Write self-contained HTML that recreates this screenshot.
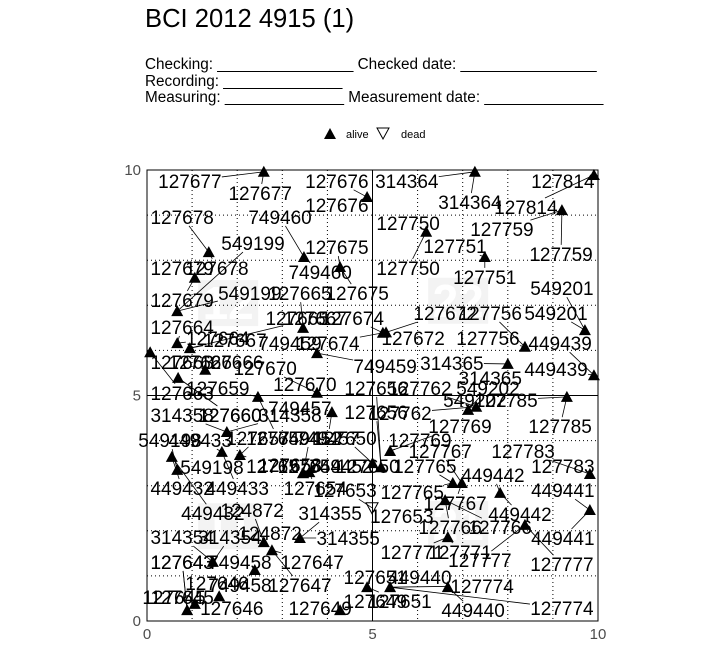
<!DOCTYPE html>
<html><head><meta charset="utf-8"><style>
body{margin:0;background:#fff;font-family:"Liberation Sans",sans-serif;}
#wrap{position:relative;width:720px;height:648px;overflow:hidden;}
.t{position:absolute;white-space:pre;color:#000;}
</style></head><body>
<div id="wrap">
<div class="t" style="left:145px;top:5px;font-size:25.6px;">BCI 2012 4915 (1)</div>
<div class="t" style="left:145px;top:57px;font-size:15.3px;line-height:16.5px;">Checking: ________________ Checked date: ________________
Recording: ______________
Measuring: ______________ Measurement date: ______________</div>
<svg id="chart" width="720" height="648" style="position:absolute;left:0;top:0"></svg>
</div>
<script>
const tags=["127677","127676","127678","749460","549199","127675","127679","127665","127664","127667","127674","749459","127663","127666","127670","127659","127660","314364","127814","127750","127759","127751","549201","127672","127756","449439","314365","549202","127785","127762","127769","127656","749457","314358","549198","449433","127657","749452","127654","127650","449432","124872","314355","314354","749458","127647","127643","127646","127645","127649","127653","127651","127774","449440","127771","127765","127767","127766","449442","127783","449441","127777","127658"];
const treeX=[2.59,4.88,1.37,3.48,0.67,4.28,1.06,3.46,0.67,0.95,5.23,3.77,0.07,1.29,3.77,2.46,0.69,7.27,9.91,6.19,9.2,7.49,9.71,5.3,8.38,9.91,8.0,7.12,9.31,7.3,5.39,5.19,4.1,1.77,0.67,1.66,2.06,3.46,3.6,5.0,0.55,2.59,3.39,1.46,2.39,2.77,0.89,1.6,1.06,4.28,4.99,4.88,5.39,6.67,6.67,6.78,6.98,6.61,7.83,9.82,9.82,8.38,3.46];
const treeY=[9.96,9.4,8.18,8.07,6.87,7.85,7.61,6.5,6.16,6.05,6.39,5.94,5.96,5.57,5.06,4.97,5.39,9.96,9.89,8.63,9.11,8.07,6.45,6.4,6.08,5.45,5.7,4.68,4.97,4.75,3.77,3.41,4.63,4.19,3.35,3.75,3.68,3.28,3.3,3.5,3.64,1.75,1.84,1.31,1.13,1.57,0.24,0.55,0.38,0.24,2.51,0.75,0.75,0.75,1.86,3.06,3.06,2.68,2.84,3.26,2.46,2.13,3.28];
const status=["A","A","A","A","A","A","A","A","A","A","A","A","A","A","A","A","A","A","A","A","A","A","A","A","A","A","A","A","A","A","A","A","A","A","A","A","A","A","A","A","A","A","A","A","A","A","A","A","A","A","D","A","A","A","A","A","A","A","A","A","A","A","A"];
const label1X=[0.95,4.21,0.78,2.95,2.35,4.21,0.78,3.39,0.78,3.73,4.55,3.17,0.78,1.18,2.62,1.57,1.84,5.76,9.22,5.79,7.87,6.83,9.2,6.61,7.61,9.16,6.76,7.56,7.96,6.05,6.94,5.08,3.39,0.78,0.51,1.18,2.46,3.61,3.73,4.39,0.78,2.33,4.06,0.78,2.06,3.66,0.78,1.55,0.78,3.84,4.39,5.06,7.43,6.05,5.88,6.16,6.5,6.72,7.67,8.34,9.22,7.38,3.17];
const label1Y=[9.76,9.76,8.96,8.96,8.38,8.29,7.83,7.27,6.52,6.72,6.72,6.16,5.74,5.74,5.61,5.17,4.57,9.76,9.76,8.82,8.69,8.31,7.38,6.83,6.83,6.16,5.72,5.17,4.9,5.17,4.32,5.17,4.72,4.57,4.01,4.01,4.06,4.06,2.95,4.06,2.95,2.46,2.39,1.86,1.31,1.31,1.31,0.84,0.53,0.29,2.9,0.98,0.78,0.98,1.53,3.44,3.77,2.08,3.24,3.77,2.9,1.35,3.46];
const label2X=[2.51,4.21,1.55,3.84,2.28,4.66,0.78,3.33,1.57,1.95,4.01,5.28,0.78,1.88,3.5,2.9,1.84,7.16,8.4,5.79,9.18,7.49,9.07,5.9,7.56,9.07,7.61,7.27,9.16,5.61,6.05,5.08,4.01,3.17,1.44,2.0,2.9,4.3,3.6,4.9,1.46,2.73,4.46,1.84,2.06,3.39,0.78,1.88,0.6,5.06,5.65,5.61,9.2,7.23,6.94,5.88,6.83,7.83,8.27,9.22,9.22,9.2,3.17];
const label2Y=[9.49,9.22,7.83,7.74,7.27,7.27,7.12,6.72,6.27,6.23,6.16,5.65,5.06,5.74,5.25,4.06,4.57,9.29,9.18,7.83,8.14,7.63,6.83,6.27,6.27,5.59,5.39,4.9,4.32,4.61,4.01,4.63,4.06,4.57,3.41,2.95,3.44,3.44,3.44,3.44,2.39,1.95,1.84,1.86,0.8,0.8,1.31,0.29,0.53,0.44,2.33,0.44,0.29,0.24,1.53,2.86,2.62,2.08,2.37,3.44,1.84,1.26,3.46];
const xTicks=[0,5,10];
const yTicks=[0,5,10];
const quadrants=["12","22","11","21"];
const quadX=[1.8,6.9,1.8,6.9];
const quadY=[7.05,7.1,2.1,2.15];

const NS="http://www.w3.org/2000/svg";
const svg=document.getElementById('chart');
const L=147,R=598,T=170,B=621;
const sx=v=>L+(v/10)*(R-L);
const sy=v=>B-(v/10)*(B-T);
function mk(tag,at,parent){const e=document.createElementNS(NS,tag);for(const k in at)e.setAttribute(k,at[k]);(parent||svg).appendChild(e);return e;}

let lg=mk('g',{});


let la=mk('polygon',{points:"324,139 336,139 330,128",fill:"#000"},lg);


let lat=mk('text',{x:346,y:138,'font-size':11,'font-family':'Liberation Sans'},lg);lat.textContent='alive';


let ld=mk('polygon',{points:"377,128 389,128 383,139",fill:"none",stroke:"#000"},lg);


let ldt=mk('text',{x:401,y:138,'font-size':11,'font-family':'Liberation Sans'},lg);ldt.textContent='dead';



quadrants.forEach((q,i)=>{
  const cx=sx(quadX[i]),cy=sy(quadY[i]);
  let r=mk('rect',{x:cx-30,y:cy-23,width:60,height:46,fill:'#f3f3f3'});
  
  
  let t=mk('text',{x:cx,y:cy+16,'text-anchor':'middle','font-size':46,'font-weight':'bold',fill:'#fff','font-family':'Liberation Sans'});t.textContent=q;
  
  
});

for(let i=1;i<10;i++){
  if(i===5)continue;
  let gv=mk('line',{x1:sx(i),x2:sx(i),y1:T,y2:B,stroke:'#000','stroke-width':1,'stroke-dasharray':'1,3'});
  
  
  let gh=mk('line',{y1:sy(i),y2:sy(i),x1:L,x2:R,stroke:'#000','stroke-width':1,'stroke-dasharray':'1,3'});
  
  
}
let m1=mk('line',{x1:sx(5),x2:sx(5),y1:T,y2:B,stroke:'#000'});


let m2=mk('line',{y1:sy(5),y2:sy(5),x1:L,x2:R,stroke:'#000'});


let fr=mk('rect',{x:L,y:T,width:R-L,height:B-T,fill:'none',stroke:'#000'});



xTicks.forEach(v=>{let t=mk('text',{x:sx(v),y:B+18,'text-anchor':'middle','font-size':15,fill:'#4d4d4d','font-family':'Liberation Sans'});t.textContent=v;
  
  });
yTicks.forEach(v=>{let t=mk('text',{x:L-6,y:sy(v)+5,'text-anchor':'end','font-size':15,fill:'#4d4d4d','font-family':'Liberation Sans'});t.textContent=v;
  
  });

function clipLine(lx,ly,px,py){
  const hw=32,hh=9,dx=px-lx,dy=py-ly;
  if(Math.abs(dx)<hw&&Math.abs(dy)<hh)return null;
  const s=Math.min(dx!==0?hw/Math.abs(dx):1e9,dy!==0?hh/Math.abs(dy):1e9);
  return [lx+dx*s,ly+dy*s];
}
tags.forEach((tag,i)=>{
  const px=sx(treeX[i]),py=sy(treeY[i]);
  [[label1X[i],label1Y[i]],[label2X[i],label2Y[i]]].forEach(([a,b])=>{
    const lx=sx(a),ly=sy(b);
    const c=clipLine(lx,ly,px,py);
    if(c&&Math.hypot(px-c[0],py-c[1])>4){
      let ln=mk('line',{x1:c[0],y1:c[1],x2:px,y2:py,stroke:'#000','stroke-width':0.8});
      
      
    }
  });
});
tags.forEach((tag,i)=>{
  const px=sx(treeX[i]),py=sy(treeY[i]);
  let m;
  if(status[i]==='A') m=mk('polygon',{points:`${px-6},${py+5} ${px+6},${py+5} ${px},${py-6}`,fill:'#000'});
  else m=mk('polygon',{points:`${px-6},${py-5} ${px+6},${py-5} ${px},${py+6}`,fill:'none',stroke:'#000'});
  
  
});
tags.forEach((tag,i)=>{
  [[label1X[i],label1Y[i]],[label2X[i],label2Y[i]]].forEach(([a,b])=>{
    let t=mk('text',{x:sx(a),y:sy(b)+7,'text-anchor':'middle','font-size':19,'font-family':'Liberation Sans'});
    t.textContent=tag;
    
    
  });
});
</script>
</body></html>
